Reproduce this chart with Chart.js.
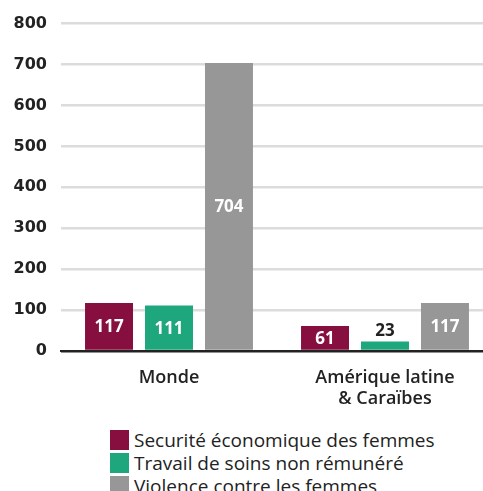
<!DOCTYPE html>
<html>
<head>
<meta charset="utf-8">
<script src="https://cdn.jsdelivr.net/npm/chart.js@4"></script>
<style>
  html, body { margin: 0; padding: 0; background: #fff; overflow: hidden; width: 483px; height: 491px; }
  #wrap { position: relative; width: 493px; height: 420px; }
  #legend { position: absolute; left: 110px; top: 428px; font-family: 'Open Sans', sans-serif; font-size: 19px; font-weight: 500; color: #222; }
  #legend div { display: flex; align-items: center; height: 23px; white-space: nowrap; }
  #legend span.box { display: inline-block; width: 19px; height: 20px; margin-right: 5px; }
</style>
</head>
<body>
<div id="wrap"><canvas id="chart" width="493" height="420"></canvas></div>
<div id="legend"></div>
<script>
// data
const categories = ['Monde', ['Amérique latine', '& Caraïbes']];
const securite = [117, 61];
const travail = [111, 23];
const violence = [704, 117];
const yTicks = [0, 100, 200, 300, 400, 500, 600, 700, 800];

const colors = ['#870f40', '#1ea77c', '#979797'];
const names = ['Securité économique des femmes', 'Travail de soins non rémunéré', 'Violence contre les femmes'];

// value labels on the bars
const barLabels = {
  id: 'barLabels',
  afterDatasetsDraw(chart) {
    const ctx = chart.ctx;
    ctx.save();
    ctx.font = 'bold 17px "Open Sans", sans-serif';
    ctx.textAlign = 'center';
    chart.data.datasets.forEach((ds, i) => {
      chart.getDatasetMeta(i).data.forEach((bar, j) => {
        const h = bar.base - bar.y;
        if (h > 15) {
          ctx.fillStyle = '#fff';
          ctx.textBaseline = 'middle';
          ctx.fillText(ds.data[j], bar.x, (bar.y + bar.base) / 2 + 1);
        } else {
          ctx.fillStyle = '#222';
          ctx.textBaseline = 'bottom';
          ctx.fillText(ds.data[j], bar.x, bar.y - 2);
        }
      });
    });
    ctx.restore();
  }
};

const ctx = document.getElementById('chart').getContext('2d');
const chart = new Chart(ctx, {
  type: 'bar',
  data: {
    labels: categories,
    datasets: [
      { label: names[0], data: securite, backgroundColor: colors[0] },
      { label: names[1], data: travail, backgroundColor: colors[1] },
      { label: names[2], data: violence, backgroundColor: colors[2] }
    ]
  },
  options: {
    responsive: false,
    animation: false,
    layout: { padding: { top: 15, right: 0, left: 0, bottom: 0 } },
    datasets: { bar: { categoryPercentage: 0.833, barPercentage: 0.8 } },
    plugins: { legend: { display: false }, tooltip: { enabled: false } },
    scales: {
      x: {
        grid: { display: false },
        border: { color: '#222', width: 2 },
        ticks: { color: '#222', padding: 8, font: { family: '"Open Sans", sans-serif', size: 18, weight: '600', lineHeight: 1.18 } },
        afterFit(scale) { scale.height = 69; }
      },
      y: {
        min: 0, max: 800,
        afterBuildTicks(scale) { scale.ticks = yTicks.map(v => ({ value: v })); },
        border: { display: false },
        grid: {
          drawTicks: false,
          color: c => c.tick && c.tick.value === 0 ? '#222' : '#dcdcdc',
          lineWidth: 2.5
        },
        ticks: { color: '#222', padding: 14, font: { family: '"DejaVu Sans", sans-serif', size: 16, weight: 'bold' } },
        afterFit(scale) { scale.width = 61; }
      }
    }
  },
  plugins: [barLabels]
});

// legend as text under the chart
const legend = document.getElementById('legend');
names.forEach((n, i) => {
  const row = document.createElement('div');
  row.innerHTML = '<span class="box" style="background:' + colors[i] + '"></span>' + n;
  legend.appendChild(row);
});
</script>
</body>
</html>
